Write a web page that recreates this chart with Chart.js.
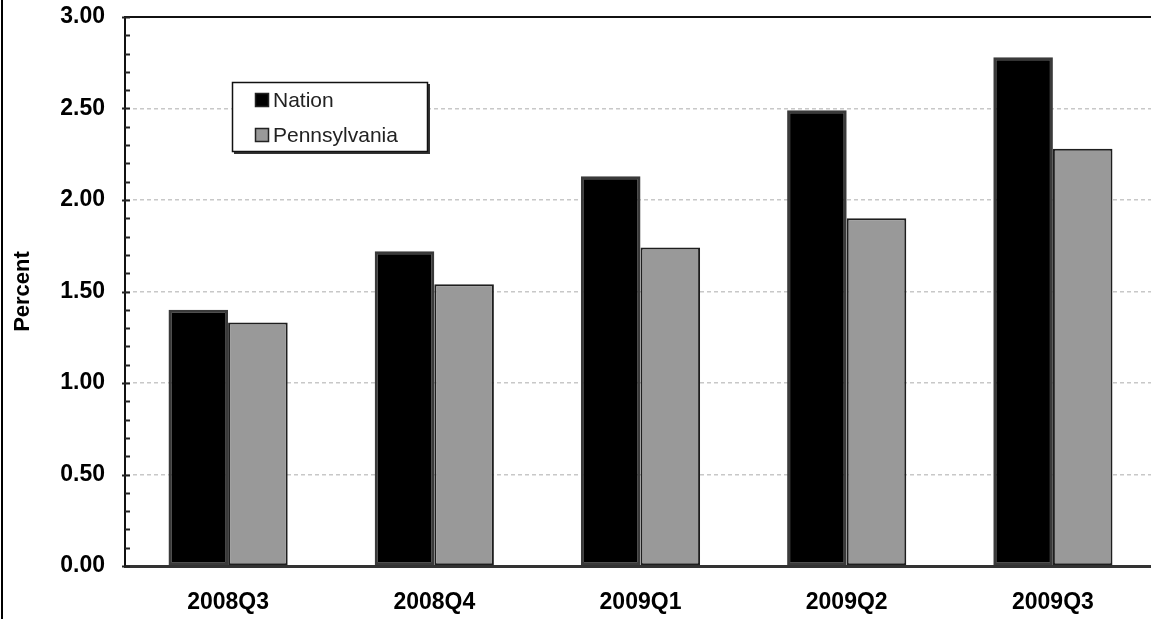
<!DOCTYPE html>
<html>
<head>
<meta charset="utf-8">
<script src="https://cdn.jsdelivr.net/npm/chart.js@4.4.1/dist/chart.umd.min.js"></script>
<style>
  html, body { margin: 0; padding: 0; background: #fff; overflow: hidden; }
  #wrap { position: relative; width: 1156px; height: 619px; }
</style>
</head>
<body>
<div id="wrap"><canvas id="c" width="1156" height="619"></canvas></div>
<script>
// Quarterly rates, in percent
const quarters = ['2008Q3', '2008Q4', '2009Q1', '2009Q2', '2009Q3'];
const nationValues = [1.40, 1.72, 2.13, 2.49, 2.78];
const pennsylvaniaValues = [1.33, 1.54, 1.74, 1.90, 2.28];
const seriesNames = ['Nation', 'Pennsylvania'];
const yMin = 0, yMax = 3, yStep = 0.5, yMinorStep = 0.1;

const FONT = '"Liberation Sans", Arial, sans-serif';

// Frame lines, inside minor ticks on the value axis, and the boxed legend
const decorations = {
  id: 'decorations',
  afterDraw(chart) {
    const ctx = chart.ctx;
    const area = chart.chartArea;
    const y = chart.scales.y;
    ctx.save();
    // outer left rule
    ctx.fillStyle = '#000';
    ctx.fillRect(1, 0, 2, chart.height);
    // top frame line
    ctx.strokeStyle = '#111';
    ctx.lineWidth = 2;
    ctx.beginPath();
    ctx.moveTo(area.left - 1, area.top);
    ctx.lineTo(chart.width, area.top);
    ctx.stroke();
    // minor ticks on the y axis
    ctx.strokeStyle = '#222';
    ctx.lineWidth = 2;
    const n = Math.round((yMax - yMin) / yMinorStep);
    for (let i = 0; i <= n; i++) {
      const v = yMin + i * yMinorStep;
      const py = Math.round(y.getPixelForValue(v)) + 0.5;
      const major = Math.abs(v / yStep - Math.round(v / yStep)) < 1e-6;
      ctx.beginPath();
      ctx.moveTo(area.left - (major ? 3 : 0), py);
      ctx.lineTo(area.left + 5, py);
      ctx.stroke();
    }
    // legend box
    const bx = 232, by = 82, bw = 196, bh = 70;
    ctx.fillStyle = '#333';
    ctx.fillRect(bx + 2, by + 2, bw, bh);
    ctx.fillStyle = '#fff';
    ctx.fillRect(bx, by, bw, bh);
    ctx.strokeStyle = '#111';
    ctx.lineWidth = 1.5;
    ctx.strokeRect(bx + 0.5, by + 0.5, bw - 1, bh - 1);
    ctx.font = '21px ' + FONT;
    ctx.textBaseline = 'middle';
    chart.data.datasets.forEach((ds, i) => {
      const cy = 100 + i * 35;
      ctx.fillStyle = ds.backgroundColor;
      ctx.fillRect(256, cy - 6, 12, 12);
      ctx.strokeStyle = '#222';
      ctx.lineWidth = 1.5;
      ctx.strokeRect(255.5, cy - 6.5, 13, 13);
      ctx.fillStyle = '#222';
      ctx.fillText(ds.label, 273, cy + 1);
    });
    ctx.restore();
  }
};

new Chart(document.getElementById('c'), {
  type: 'bar',
  data: {
    labels: quarters,
    datasets: [
      {
        label: seriesNames[0],
        data: nationValues,
        backgroundColor: '#000000',
        borderColor: '#3a3a3a',
        borderWidth: 3,
        borderSkipped: false
      },
      {
        label: seriesNames[1],
        data: pennsylvaniaValues,
        backgroundColor: '#999999',
        borderColor: '#1e1e1e',
        borderWidth: 2,
        borderSkipped: false
      }
    ]
  },
  options: {
    responsive: false,
    animation: false,
    devicePixelRatio: 1,
    layout: { padding: { top: 17, right: 0, left: 0, bottom: 0 } },
    datasets: { bar: { categoryPercentage: 0.578, barPercentage: 1.0 } },
    plugins: {
      legend: { display: false },
      title: { display: false },
      tooltip: { enabled: false }
    },
    scales: {
      x: {
        grid: { display: false, drawTicks: false },
        border: { display: true, color: '#333', width: 3 },
        ticks: {
          color: '#000',
          font: { family: FONT, size: 23, weight: 'bold' },
          padding: 23
        },
        afterFit(scale) {
          scale.height = 53;
          scale.paddingLeft = 0;
          scale.paddingRight = 0;
        }
      },
      y: {
        min: yMin,
        max: yMax,
        ticks: {
          stepSize: yStep,
          color: '#000',
          font: { family: FONT, size: 23, weight: 'bold' },
          padding: 20,
          callback: (v) => Number(v).toFixed(2)
        },
        grid: {
          drawTicks: false,
          lineWidth: 1.5,
          color: (c) => (c.tick && (c.tick.value === yMin || c.tick.value === yMax)) ? 'rgba(0,0,0,0)' : '#c8c8c8'
        },
        border: { display: true, color: '#111', width: 2, dash: [4, 3] },
        title: {
          display: true,
          text: 'Percent',
          color: '#000',
          font: { family: FONT, size: 22, weight: 'bold' },
          padding: { top: 10, bottom: 0 }
        },
        afterFit(scale) {
          scale.width = 125;
          scale.paddingTop = 0;
          scale.paddingBottom = 0;
        }
      }
    }
  },
  plugins: [decorations]
});
</script>
</body>
</html>
